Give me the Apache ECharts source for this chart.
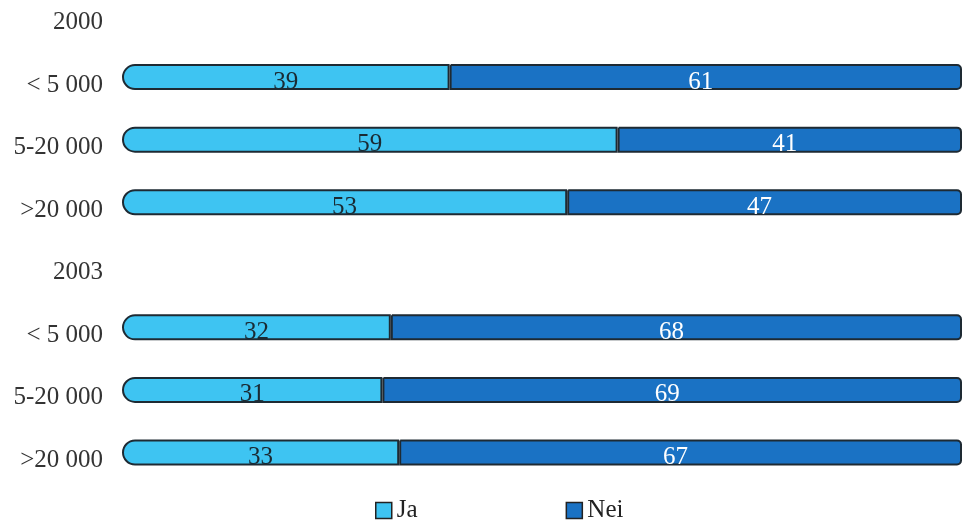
<!DOCTYPE html>
<html><head><meta charset="utf-8">
<script src="https://cdn.jsdelivr.net/npm/echarts@6/dist/echarts.min.js"></script>
<style>html,body{margin:0;padding:0;background:#fff}#c{width:964px;height:521px}</style>
</head><body><div id="c"></div>
<script>
const categories = ['2000', '< 5 000', '5-20 000', '>20 000', '2003', '< 5 000', '5-20 000', '>20 000'];
const jaValues = [null, 39, 59, 53, null, 32, 31, 33];
const neiValues = [null, 61, 41, 47, null, 68, 69, 67];
const seriesNames = ['Ja', 'Nei'];

const font = 'Liberation Serif';
const chart = echarts.init(document.getElementById('c'));
chart.setOption({
  animation: false,
  backgroundColor: '#fff',
  grid: { left: 122, right: 2, top: 14.5, bottom: 68.5, containLabel: false },
  legend: {
    left: 370, top: 493, itemWidth: 16, itemHeight: 16, itemGap: 148, icon: 'rect',
    textStyle: { fontFamily: font, fontSize: 25, color: '#222' },
    data: seriesNames.map(n => ({ name: n, itemStyle: { borderColor: '#222', borderWidth: 1.5 } }))
  },
  xAxis: { type: 'value', min: 0, max: 100, show: false },
  yAxis: {
    type: 'category', inverse: true, data: categories, boundaryGap: false,
    axisLine: { show: false }, axisTick: { show: false }, splitLine: { show: false },
    axisLabel: { fontFamily: font, fontSize: 25, color: '#333', margin: 19, verticalAlign: 'top', lineHeight: 16 }
  },
  series: [
    {
      name: seriesNames[0], type: 'bar', stack: 's', data: jaValues, barWidth: 26,
      itemStyle: { color: '#3ec4f2', borderColor: '#1e2a33', borderWidth: 2, borderRadius: [13, 0, 0, 13] },
      label: { show: true, position: 'inside', fontFamily: font, fontSize: 25, color: '#1a2a33', offset: [0, 5] }
    },
    {
      name: seriesNames[1], type: 'bar', stack: 's', data: neiValues, barWidth: 26,
      itemStyle: { color: '#1a72c4', borderColor: '#1e2a33', borderWidth: 2, borderRadius: [0, 4, 4, 0] },
      label: { show: true, position: 'inside', fontFamily: font, fontSize: 25, color: '#fff', offset: [-5, 5] }
    }
  ]
});
</script></body></html>
